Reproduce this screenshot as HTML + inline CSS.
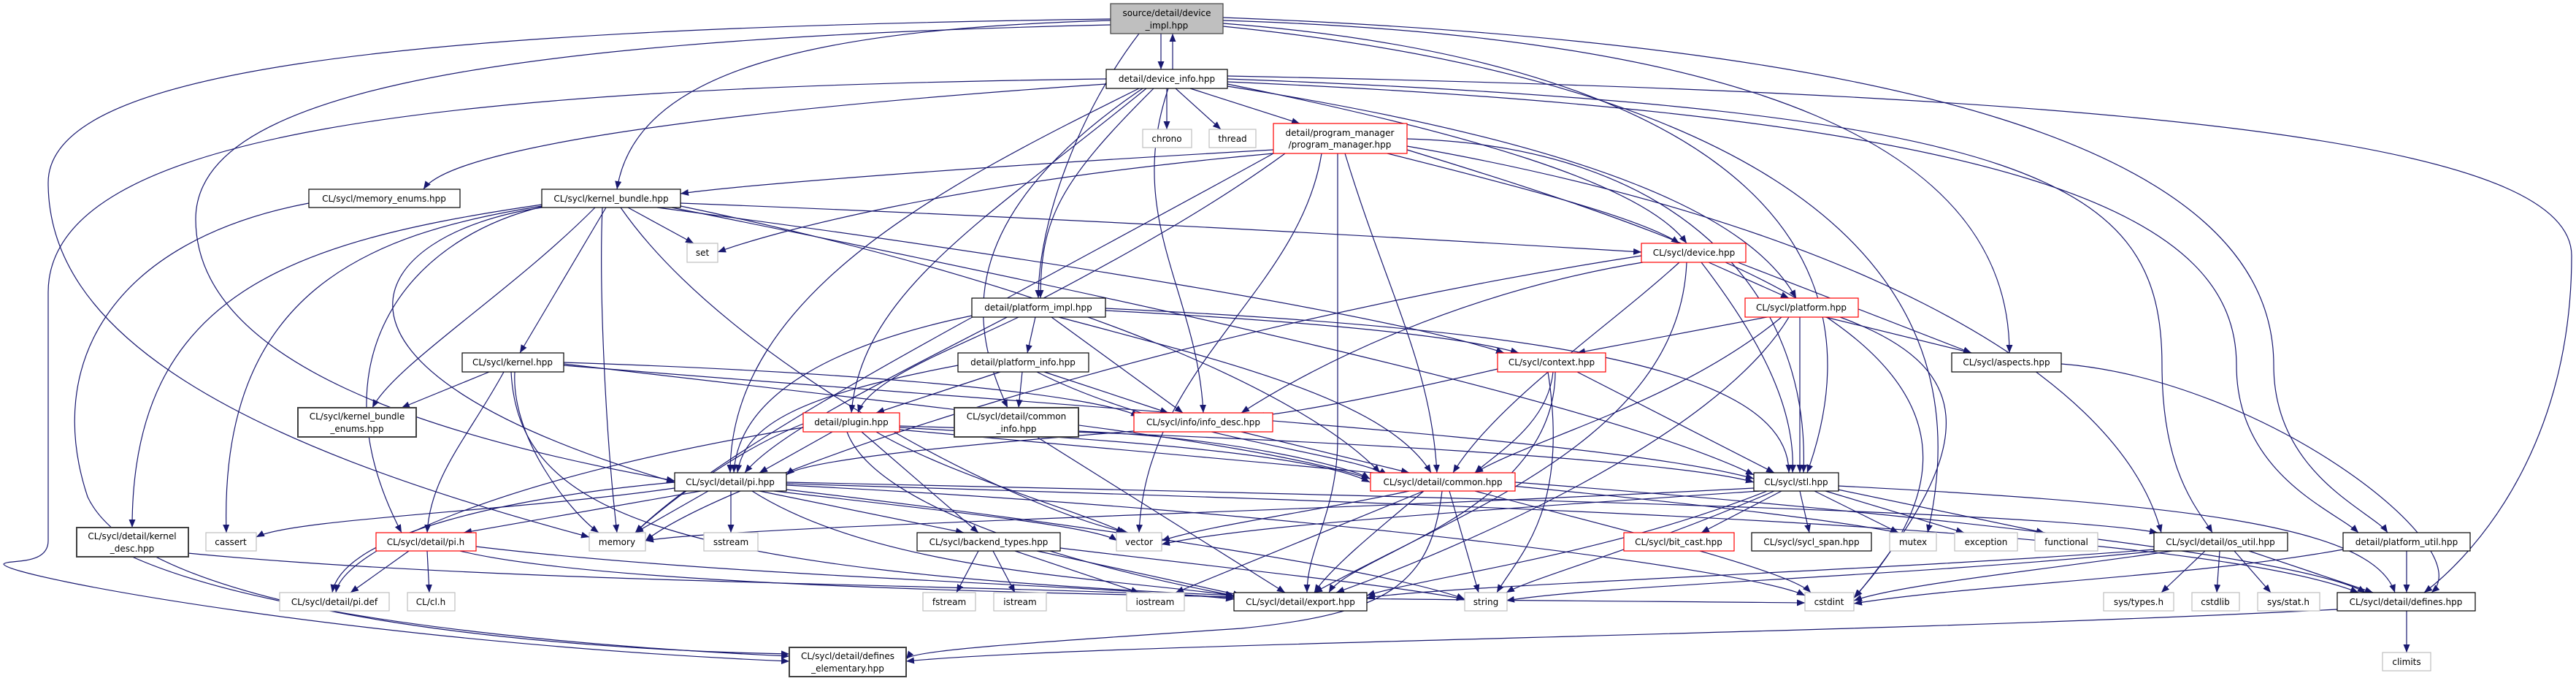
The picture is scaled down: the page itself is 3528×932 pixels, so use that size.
<!DOCTYPE html>
<html><head><meta charset="utf-8"><style>
html,body{margin:0;padding:0;background:#fff;}
svg{display:block;}
text{font-family:"DejaVu Sans","Liberation Sans",sans-serif;font-size:12px;fill:#000;text-anchor:middle;}
.e path{fill:none;stroke:#191970;stroke-width:1.2;}
</style></head><body>
<svg width="3528" height="932" viewBox="0 0 3528 932" xmlns="http://www.w3.org/2000/svg">
<defs><marker id="a" markerUnits="userSpaceOnUse" markerWidth="12" markerHeight="10" refX="11" refY="4.5" orient="auto"><path d="M0,0 L11,4.5 L0,9 z" fill="#191970"/></marker></defs>
<g class="e" marker-end="url(#a)">
<path d="M1590 46 L1590 95"/>
<path d="M1606 95 L1606 46"/>
<path d="M1560 46 C1480 150,1422 300,1422 408"/>
<path d="M1521 28 C1100 40,870 100,845 259"/>
<path d="M1521 26 C500 40,66 100,66 250 C66 450,300 600,807 735"/>
<path d="M1521 34 C600 55,268 140,268 300 C268 500,600 600,924 658"/>
<path d="M1675 28 C2400 50,2752 200,2752 483"/>
<path d="M1675 32 C2300 80,2600 300,2475 647"/>
<path d="M1675 36 C2300 100,2740 300,2640 729"/>
<path d="M1675 24 C2600 60,3114 200,3114 500 C3114 650,3250 700,3270 729"/>
<path d="M1598 121 L1598 177"/>
<path d="M1610 121 L1672 177"/>
<path d="M1630 121 L1780 169"/>
<path d="M1515 115 C1000 150,620 200,580 259"/>
<path d="M1560 121 C1300 250,1000 400,1000 647"/>
<path d="M1570 121 C1350 300,1180 400,1166 565"/>
<path d="M1580 121 C1450 250,1425 300,1425 408"/>
<path d="M1600 121 C1540 300,1640 400,1648 565"/>
<path d="M1565 121 C1300 300,1330 450,1380 558"/>
<path d="M1681 115 C2000 180,2250 250,2310 333"/>
<path d="M1681 118 C2200 200,2400 300,2460 408"/>
<path d="M1681 108 C2800 150,2961 250,2961 500 C2961 650,3013 700,3030 729"/>
<path d="M1681 112 C2800 160,3063 300,3063 500 C3063 650,3200 700,3230 729"/>
<path d="M1681 104 C3000 130,3522 200,3522 350 C3522 600,3400 750,3320 811"/>
<path d="M1515 108 C600 120,66 180,66 400 L66 740 C66 775,10 765,5 772 C10 790,500 880,1081 905"/>
<path d="M1744 205 C1300 230,1000 255,932 265"/>
<path d="M1744 210 C1300 250,1050 320,983 345"/>
<path d="M1760 210 C1500 400,1100 550,1020 647"/>
<path d="M1744 210 C1400 400,1000 600,870 729"/>
<path d="M1810 210 C1780 400,1570 500,1560 729"/>
<path d="M1832 210 L1832 600 C1832 700,1790 750,1790 811"/>
<path d="M1842 210 C1900 400,1960 500,1968 647"/>
<path d="M1900 210 C2100 260,2250 300,2300 333"/>
<path d="M1927 190 C2300 200,2480 400,2470 647"/>
<path d="M1927 200 C2500 300,2900 500,2960 729"/>
<path d="M1927 205 C2400 350,2830 500,2539 818"/>
<path d="M860 284 L950 333"/>
<path d="M932 278 C1500 300,2000 330,2248 345"/>
<path d="M830 284 L712 483"/>
<path d="M815 284 C700 400,540 500,510 558"/>
<path d="M742 280 C400 330,181 400,181 722"/>
<path d="M742 282 C500 320,300 400,310 729"/>
<path d="M742 283 C550 330,430 500,550 729"/>
<path d="M742 284 C500 320,380 500,924 660"/>
<path d="M850 284 C1000 500,1400 700,1545 729"/>
<path d="M932 282 C1500 400,1800 550,1890 647"/>
<path d="M900 284 C1400 350,1900 430,2060 483"/>
<path d="M920 284 C1500 400,2200 550,2402 650"/>
<path d="M825 284 C820 400,830 600,845 729"/>
<path d="M2340 359 L2450 408"/>
<path d="M2380 359 L2700 483"/>
<path d="M2330 359 C2400 450,2460 550,2455 647"/>
<path d="M2250 359 C2000 400,1800 500,1700 565"/>
<path d="M2300 359 C2200 450,2050 550,1990 647"/>
<path d="M2310 359 C2300 600,2000 700,1800 811"/>
<path d="M2248 350 C1600 450,1000 650,884 740"/>
<path d="M2420 434 L2160 483"/>
<path d="M2500 434 L2700 483"/>
<path d="M2465 434 L2465 647"/>
<path d="M2440 434 C2300 550,2100 600,2020 647"/>
<path d="M2450 434 C2350 600,2000 750,1830 811"/>
<path d="M2520 434 C2700 500,2720 600,2540 818"/>
<path d="M1418 434 L1407 483"/>
<path d="M1395 434 C1300 480,1190 520,1175 565"/>
<path d="M1331 432 C1100 480,1010 560,1005 647"/>
<path d="M1440 434 L1620 565"/>
<path d="M1450 434 C1700 500,1900 550,1960 647"/>
<path d="M1514 422 C2100 450,2450 500,2450 647"/>
<path d="M1514 425 C1800 440,2000 460,2080 483"/>
<path d="M1370 509 L1200 565"/>
<path d="M1312 500 C1100 540,1020 580,1010 647"/>
<path d="M1400 509 L1395 558"/>
<path d="M1430 509 L1600 565"/>
<path d="M1420 509 C1600 600,1850 620,1900 650"/>
<path d="M2051 505 C1900 540,1800 560,1720 570"/>
<path d="M2127 509 C2120 580,2050 620,2020 647"/>
<path d="M2160 509 L2430 647"/>
<path d="M2130 509 C2130 700,1850 760,1820 811"/>
<path d="M2120 509 C2150 700,2080 760,2050 811"/>
<path d="M670 509 L550 558"/>
<path d="M690 509 C640 600,590 650,585 729"/>
<path d="M705 509 C700 600,780 700,820 729"/>
<path d="M772 496 C1200 510,1500 540,1560 570"/>
<path d="M772 498 C1300 560,1700 600,1876 655"/>
<path d="M772 500 C1500 560,2200 600,2402 655"/>
<path d="M700 509 C710 700,900 780,1690 815"/>
<path d="M2823 498 C3100 520,3400 750,3330 811"/>
<path d="M1140 591 L1040 647"/>
<path d="M1180 591 L1340 729"/>
<path d="M1100 580 C1000 620,900 700,870 729"/>
<path d="M1100 585 C700 650,470 750,460 811"/>
<path d="M1232 585 C1500 600,1800 620,1876 660"/>
<path d="M1232 583 C1800 600,2300 630,2402 660"/>
<path d="M1232 588 C1800 640,2400 690,2600 729"/>
<path d="M1200 591 C1300 650,1480 700,1540 729"/>
<path d="M1160 591 C1200 700,1500 780,1690 815"/>
<path d="M1420 598 L1760 811"/>
<path d="M1477 590 C1700 600,1850 640,1876 655"/>
<path d="M1553 590 C1300 610,1100 630,1077 650"/>
<path d="M1700 591 L1930 647"/>
<path d="M960 672 L635 729"/>
<path d="M924 668 C700 700,400 710,351 735"/>
<path d="M970 672 L870 729"/>
<path d="M1001 672 L1001 729"/>
<path d="M1040 672 L1320 729"/>
<path d="M1060 672 C1300 700,1500 720,1530 740"/>
<path d="M1030 672 C1200 780,1500 790,1690 815"/>
<path d="M1077 670 C1500 720,1900 780,2006 820"/>
<path d="M1077 664 C1800 700,2400 780,2472 815"/>
<path d="M1077 660 C2000 680,2800 700,2955 729"/>
<path d="M924 660 C700 680,470 730,455 811"/>
<path d="M1077 662 C2000 690,3000 720,3230 811"/>
<path d="M560 754 L480 811"/>
<path d="M585 754 L588 811"/>
<path d="M652 748 C1000 790,1500 800,1690 820"/>
<path d="M630 754 C900 820,2000 820,2472 825"/>
<path d="M1950 672 C1880 730,1820 780,1800 811"/>
<path d="M1985 672 L2025 811"/>
<path d="M2020 672 C2200 720,2450 780,2480 811"/>
<path d="M1975 672 C1960 800,1900 840,1700 860 C1400 880,1250 890,1241 902"/>
<path d="M1950 672 L1610 811"/>
<path d="M1930 672 C1800 700,1650 720,1591 740"/>
<path d="M2075 660 C2600 700,3150 760,3240 811"/>
<path d="M2440 672 L2330 729"/>
<path d="M2465 672 L2478 729"/>
<path d="M2485 672 L2600 729"/>
<path d="M2500 672 L2690 729"/>
<path d="M2517 670 L2800 729"/>
<path d="M2402 668 C1800 700,1000 720,884 740"/>
<path d="M2410 672 C2000 700,1700 720,1591 745"/>
<path d="M2430 672 C2250 750,2100 790,2063 811"/>
<path d="M2420 672 C2200 760,1950 790,1872 815"/>
<path d="M2517 665 C3000 690,3250 720,3280 811"/>
<path d="M1340 754 L1310 811"/>
<path d="M1360 754 L1390 811"/>
<path d="M1390 754 L1560 811"/>
<path d="M1420 754 L1700 815"/>
<path d="M1452 750 C1700 780,1900 800,2006 820"/>
<path d="M3020 754 L2960 811"/>
<path d="M3040 754 L3036 811"/>
<path d="M3060 754 L3110 811"/>
<path d="M3080 754 L3250 811"/>
<path d="M2950 752 C2600 780,2000 800,1872 818"/>
<path d="M2955 754 C2600 790,2200 800,2063 822"/>
<path d="M2975 754 C2800 780,2600 800,2539 822"/>
<path d="M3296 754 L3296 811"/>
<path d="M3209 752 C3000 790,2700 800,2539 826"/>
<path d="M3296 836 L3296 893"/>
<path d="M3201 834 C2500 870,1500 880,1241 905"/>
<path d="M181 762 C400 860,900 890,1081 898"/>
<path d="M257 757 C700 800,1400 800,1690 818"/>
<path d="M423 278 C150 330,60 500,120 680 C200 850,800 890,1081 895"/>
</g>
<g stroke-width="1.2">
<rect x="1521" y="5" width="154" height="41" fill="#bfbfbf" stroke="#404040"/>
<text x="1598" y="22">source/detail/device</text><text x="1598" y="39">_impl.hpp</text>
<rect x="1515" y="95" width="166" height="26" fill="#fff" stroke="#000"/><text x="1598" y="112">detail/device_info.hpp</text>
<rect x="1565" y="177" width="67" height="25" fill="#fff" stroke="#bfbfbf"/><text x="1598" y="194">chrono</text>
<rect x="1656" y="177" width="64" height="25" fill="#fff" stroke="#bfbfbf"/><text x="1688" y="194">thread</text>
<rect x="1744" y="169" width="183" height="41" fill="#fff" stroke="#ff0000"/><text x="1835" y="186">detail/program_manager</text><text x="1835" y="202">/program_manager.hpp</text>
<rect x="423" y="259" width="207" height="25" fill="#fff" stroke="#000"/><text x="526" y="276">CL/sycl/memory_enums.hpp</text>
<rect x="742" y="259" width="190" height="25" fill="#fff" stroke="#000"/><text x="837" y="276">CL/sycl/kernel_bundle.hpp</text>
<rect x="941" y="333" width="42" height="26" fill="#fff" stroke="#bfbfbf"/><text x="962" y="350">set</text>
<rect x="2248" y="333" width="143" height="26" fill="#fff" stroke="#ff0000"/><text x="2320" y="350">CL/sycl/device.hpp</text>
<rect x="1331" y="408" width="183" height="26" fill="#fff" stroke="#000"/><text x="1422" y="425">detail/platform_impl.hpp</text>
<rect x="2390" y="408" width="155" height="26" fill="#fff" stroke="#ff0000"/><text x="2467" y="425">CL/sycl/platform.hpp</text>
<rect x="633" y="483" width="139" height="26" fill="#fff" stroke="#000"/><text x="702" y="500">CL/sycl/kernel.hpp</text>
<rect x="1312" y="483" width="179" height="26" fill="#fff" stroke="#000"/><text x="1401" y="500">detail/platform_info.hpp</text>
<rect x="2051" y="483" width="148" height="26" fill="#fff" stroke="#ff0000"/><text x="2125" y="500">CL/sycl/context.hpp</text>
<rect x="2673" y="483" width="150" height="26" fill="#fff" stroke="#000"/><text x="2748" y="500">CL/sycl/aspects.hpp</text>
<rect x="408" y="558" width="162" height="40" fill="#fff" stroke="#404040" stroke-width="2"/><text x="489" y="574">CL/sycl/kernel_bundle</text><text x="489" y="591">_enums.hpp</text>
<rect x="1100" y="565" width="132" height="26" fill="#fff" stroke="#ff0000"/><text x="1166" y="582">detail/plugin.hpp</text>
<rect x="1307" y="558" width="170" height="40" fill="#fff" stroke="#404040" stroke-width="2"/><text x="1392" y="574">CL/sycl/detail/common</text><text x="1392" y="591">_info.hpp</text>
<rect x="1553" y="565" width="190" height="26" fill="#fff" stroke="#ff0000"/><text x="1648" y="582">CL/sycl/info/info_desc.hpp</text>
<rect x="924" y="647" width="153" height="25" fill="#fff" stroke="#000"/><text x="1000" y="664">CL/sycl/detail/pi.hpp</text>
<rect x="1877" y="647" width="198" height="25" fill="#fff" stroke="#ff0000"/><text x="1976" y="664">CL/sycl/detail/common.hpp</text>
<rect x="2402" y="647" width="116" height="25" fill="#fff" stroke="#000"/><text x="2460" y="664">CL/sycl/stl.hpp</text>
<rect x="105" y="722" width="153" height="40" fill="#fff" stroke="#404040" stroke-width="2"/><text x="181" y="738">CL/sycl/detail/kernel</text><text x="181" y="755">_desc.hpp</text>
<rect x="282" y="729" width="69" height="25" fill="#fff" stroke="#bfbfbf"/><text x="316" y="746">cassert</text>
<rect x="515" y="729" width="137" height="25" fill="#fff" stroke="#ff0000"/><text x="583" y="746">CL/sycl/detail/pi.h</text>
<rect x="807" y="729" width="77" height="25" fill="#fff" stroke="#bfbfbf"/><text x="845" y="746">memory</text>
<rect x="964" y="729" width="74" height="25" fill="#fff" stroke="#bfbfbf"/><text x="1001" y="746">sstream</text>
<rect x="1256" y="729" width="196" height="25" fill="#fff" stroke="#000"/><text x="1354" y="746">CL/sycl/backend_types.hpp</text>
<rect x="1529" y="729" width="62" height="25" fill="#fff" stroke="#bfbfbf"/><text x="1560" y="746">vector</text>
<rect x="2224" y="729" width="151" height="25" fill="#fff" stroke="#ff0000"/><text x="2299" y="746">CL/sycl/bit_cast.hpp</text>
<rect x="2399" y="729" width="164" height="25" fill="#fff" stroke="#000"/><text x="2481" y="746">CL/sycl/sycl_span.hpp</text>
<rect x="2588" y="729" width="64" height="25" fill="#fff" stroke="#bfbfbf"/><text x="2620" y="746">mutex</text>
<rect x="2677" y="729" width="86" height="25" fill="#fff" stroke="#bfbfbf"/><text x="2720" y="746">exception</text>
<rect x="2787" y="729" width="86" height="25" fill="#fff" stroke="#bfbfbf"/><text x="2830" y="746">functional</text>
<rect x="2950" y="729" width="183" height="25" fill="#fff" stroke="#000"/><text x="3041" y="746">CL/sycl/detail/os_util.hpp</text>
<rect x="3209" y="729" width="174" height="25" fill="#fff" stroke="#000"/><text x="3296" y="746">detail/platform_util.hpp</text>
<rect x="383" y="811" width="150" height="25" fill="#fff" stroke="#bfbfbf"/><text x="458" y="828">CL/sycl/detail/pi.def</text>
<rect x="558" y="811" width="65" height="25" fill="#fff" stroke="#bfbfbf"/><text x="590" y="828">CL/cl.h</text>
<rect x="1264" y="811" width="72" height="25" fill="#fff" stroke="#bfbfbf"/><text x="1300" y="828">fstream</text>
<rect x="1361" y="811" width="72" height="25" fill="#fff" stroke="#bfbfbf"/><text x="1397" y="828">istream</text>
<rect x="1543" y="811" width="79" height="25" fill="#fff" stroke="#bfbfbf"/><text x="1582" y="828">iostream</text>
<rect x="1690" y="811" width="182" height="25" fill="#fff" stroke="#000"/><text x="1781" y="828">CL/sycl/detail/export.hpp</text>
<rect x="2006" y="811" width="58" height="25" fill="#fff" stroke="#bfbfbf"/><text x="2035" y="828">string</text>
<rect x="2472" y="811" width="67" height="25" fill="#fff" stroke="#bfbfbf"/><text x="2505" y="828">cstdint</text>
<rect x="2881" y="811" width="96" height="25" fill="#fff" stroke="#bfbfbf"/><text x="2929" y="828">sys/types.h</text>
<rect x="3002" y="811" width="65" height="25" fill="#fff" stroke="#bfbfbf"/><text x="3034" y="828">cstdlib</text>
<rect x="3092" y="811" width="85" height="25" fill="#fff" stroke="#bfbfbf"/><text x="3134" y="828">sys/stat.h</text>
<rect x="3201" y="811" width="189" height="25" fill="#fff" stroke="#000"/><text x="3295" y="828">CL/sycl/detail/defines.hpp</text>
<rect x="1081" y="886" width="160" height="40" fill="#fff" stroke="#404040" stroke-width="2"/><text x="1161" y="902">CL/sycl/detail/defines</text><text x="1161" y="919">_elementary.hpp</text>
<rect x="3263" y="893" width="66" height="25" fill="#fff" stroke="#bfbfbf"/><text x="3296" y="910">climits</text>
</g>
</svg>
</body></html>
